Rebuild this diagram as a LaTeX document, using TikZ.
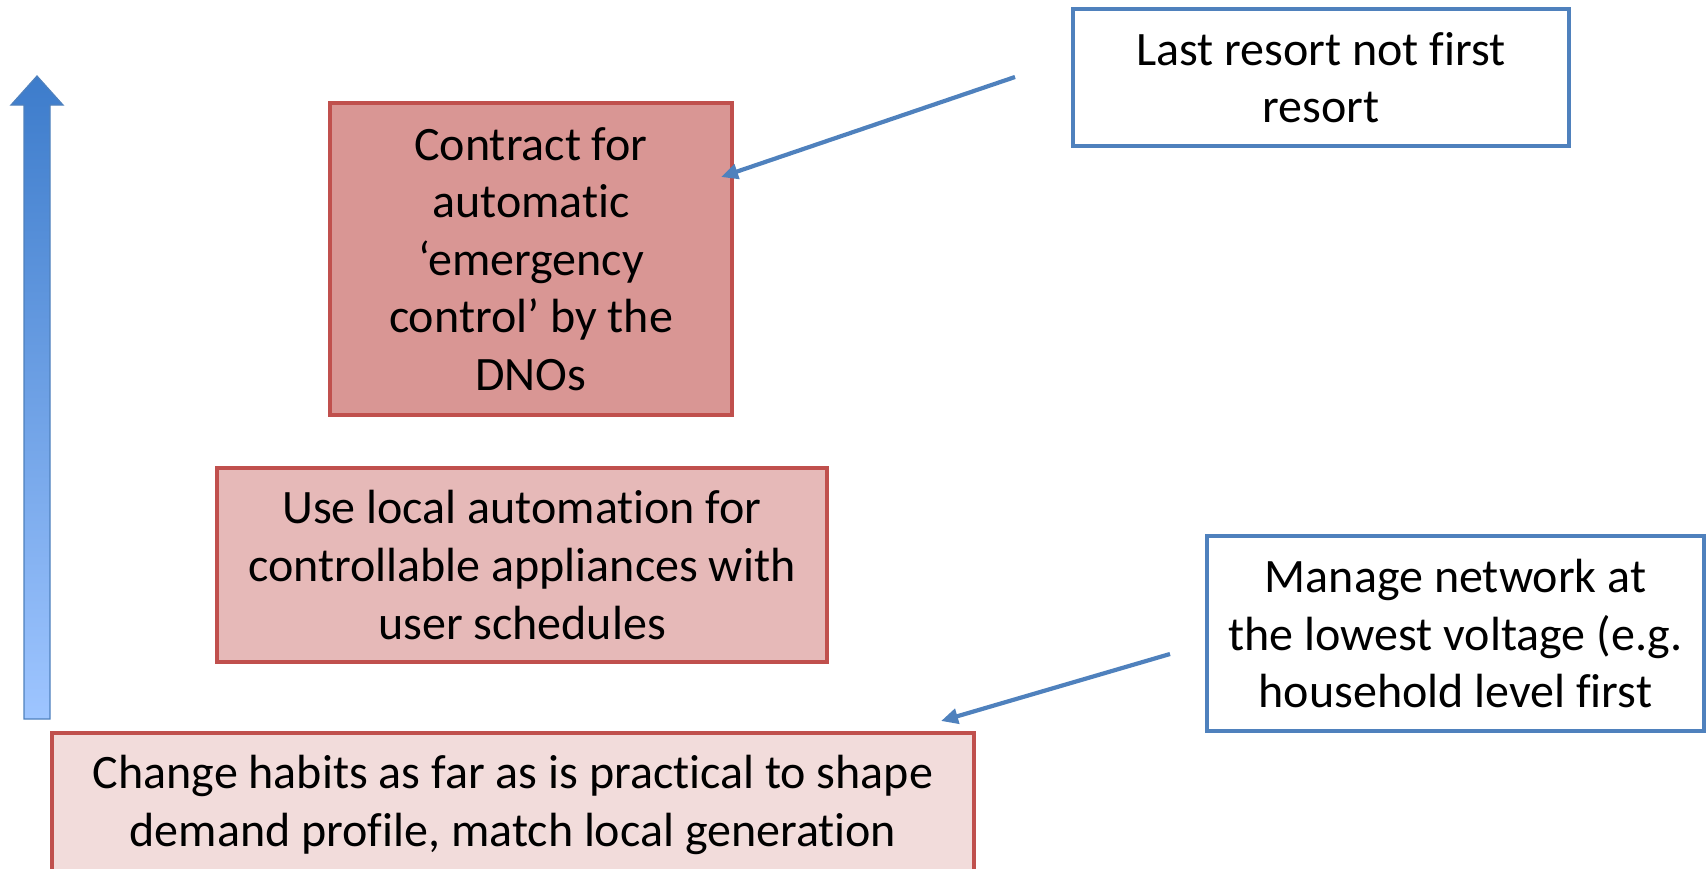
\documentclass[tikz,border=0pt]{standalone}
\usepackage{fontspec}
\setmainfont{Carlito}[Ligatures=NoCommon]
\usetikzlibrary{arrows.meta,shadows}
\definecolor{redline}{HTML}{C0504D}
\definecolor{fillA}{HTML}{D99694}
\definecolor{fillB}{HTML}{E6B9B8}
\definecolor{fillC}{HTML}{F2DCDB}
\definecolor{blueline}{HTML}{4F81BD}
\definecolor{arrtop}{HTML}{3D7CCB}
\definecolor{arrbot}{HTML}{9EC5FF}
\tikzset{
  redbox/.style={draw=redline, line width=1.7pt, inner sep=0pt, align=center,
    font=\fontsize{24}{28.8}\selectfont,
    drop shadow={opacity=0.2, shadow xshift=0.8pt, shadow yshift=-1.2pt}},
  bluebox/.style={draw=blueline, line width=1.9pt, fill=white, inner sep=0pt, align=center,
    font=\fontsize{24}{28.8}\selectfont,
    drop shadow={opacity=0.2, shadow xshift=0.8pt, shadow yshift=-1.2pt}},
  pointer/.style={draw=blueline, line width=2.1pt, -{Triangle[length=8.5pt,width=7.5pt]}}
}
\begin{document}
\begin{tikzpicture}[x=0.5pt,y=-0.5pt]
\useasboundingbox (0,0) rectangle (1707,868);
\clip (0,0) rectangle (1707,868);
% big vertical arrow
\shade[top color=arrtop, bottom color=arrbot, draw=blueline, line width=0.6pt]
  (24,719) -- (24,105) -- (11,105) -- (37,76) -- (63,105) -- (50,105) -- (50,719) -- cycle;
% boxes
\node[redbox, fill=fillA, minimum width=201pt, minimum height=156pt] (contract) at (531,259)
  {Contract for\\automatic\\‘emergency\\control’ by the\\DNOs};
\node[redbox, fill=fillB, minimum width=305pt, minimum height=97pt] (local) at (522,565)
  {Use local automation for\\controllable appliances with\\user schedules};
\node[redbox, fill=fillC, minimum width=461pt, minimum height=72pt] (habits) at (513,805)
  {Change habits as far as is practical to shape\\demand profile, match local generation};
\node[bluebox, minimum width=248pt, minimum height=68.5pt] (last) at (1321,77.5)
  {Last resort not first\\resort};
\node[bluebox, minimum width=248.5pt, minimum height=97.5pt] (manage) at (1455.5,633.5)
  {Manage network at\\the lowest voltage (e.g.\\household level first};
% connectors
\coordinate (p1s) at (1015,77);
\coordinate (p1e) at (721,177);
\coordinate (p2s) at (1170,654);
\coordinate (p2e) at (941,721);
\draw[pointer] (p1s) -- (p1e);
\draw[pointer] (p2s) -- (p2e);
\end{tikzpicture}
\end{document}
